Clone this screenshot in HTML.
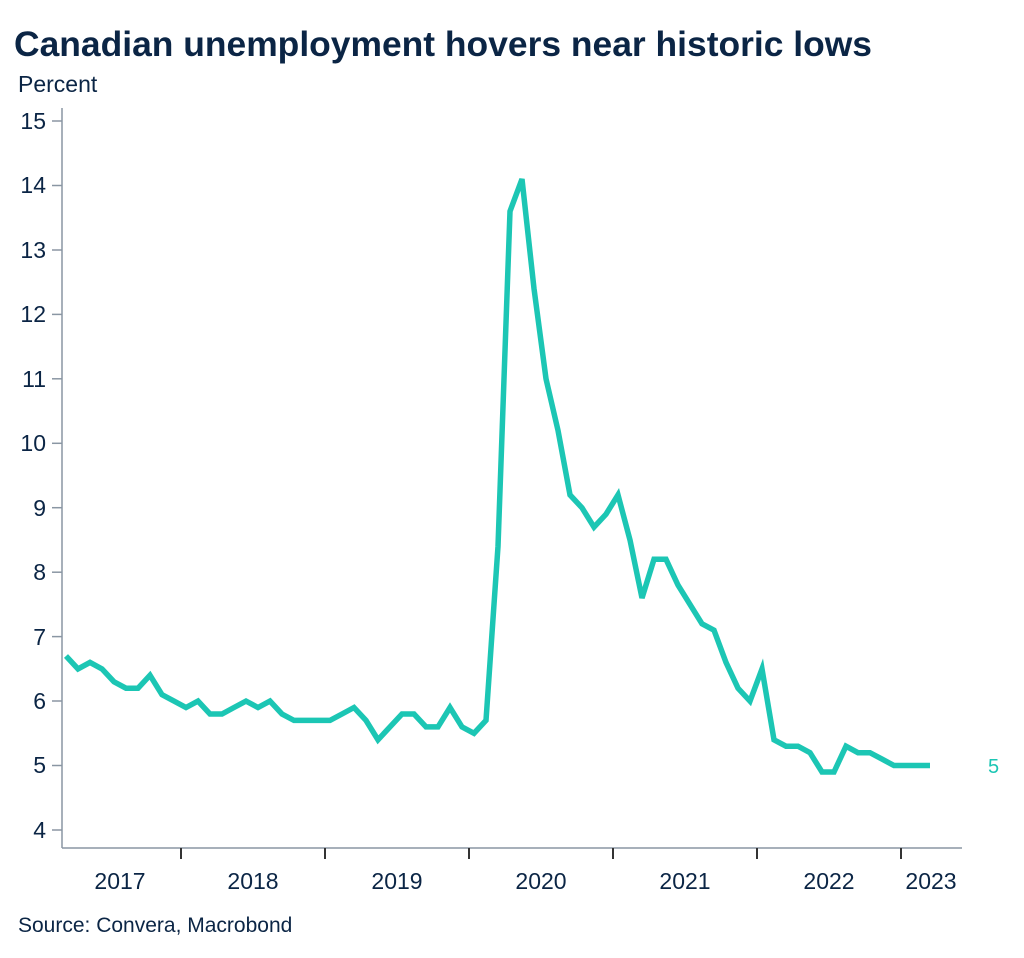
<!DOCTYPE html>
<html><head><meta charset="utf-8"><style>
body{margin:0;background:#fff;}
svg{display:block;font-family:"Liberation Sans",sans-serif;}
</style></head><body>
<svg width="1024" height="958" viewBox="0 0 1024 958" xmlns="http://www.w3.org/2000/svg">
<text x="14" y="56" font-size="35" font-weight="bold" fill="#0b2545" textLength="858" lengthAdjust="spacingAndGlyphs">Canadian unemployment hovers near historic lows</text>
<text x="18" y="92" font-size="23" fill="#0b2545">Percent</text>
<g stroke="#8a96a3" stroke-width="1.5" fill="none">
<line x1="62" y1="108" x2="62" y2="848"/>
<line x1="62" y1="848" x2="962" y2="848"/>
<line x1="52" y1="121" x2="62" y2="121"/><line x1="52" y1="185.5" x2="62" y2="185.5"/>
<line x1="52" y1="250" x2="62" y2="250"/><line x1="52" y1="314.4" x2="62" y2="314.4"/>
<line x1="52" y1="378.8" x2="62" y2="378.8"/><line x1="52" y1="443.3" x2="62" y2="443.3"/>
<line x1="52" y1="507.7" x2="62" y2="507.7"/><line x1="52" y1="572.2" x2="62" y2="572.2"/>
<line x1="52" y1="636.6" x2="62" y2="636.6"/><line x1="52" y1="701" x2="62" y2="701"/>
<line x1="52" y1="765.5" x2="62" y2="765.5"/><line x1="52" y1="830" x2="62" y2="830"/>
</g>
<g stroke="#333" stroke-width="2">
<line x1="181" y1="848" x2="181" y2="859"/><line x1="325" y1="848" x2="325" y2="859"/>
<line x1="469" y1="848" x2="469" y2="859"/><line x1="613" y1="848" x2="613" y2="859"/>
<line x1="757" y1="848" x2="757" y2="859"/><line x1="901" y1="848" x2="901" y2="859"/>
</g>
<g font-size="23" fill="#0b2545" text-anchor="end">
<text x="46" y="129">15</text><text x="46" y="193">14</text><text x="46" y="258">13</text>
<text x="46" y="322">12</text><text x="46" y="387">11</text><text x="46" y="451">10</text>
<text x="46" y="516">9</text><text x="46" y="580">8</text><text x="46" y="645">7</text>
<text x="46" y="709">6</text><text x="46" y="773">5</text><text x="46" y="838">4</text>
</g>
<g font-size="23" fill="#0b2545" text-anchor="middle">
<text x="120" y="889">2017</text><text x="253" y="889">2018</text><text x="397" y="889">2019</text>
<text x="541" y="889">2020</text><text x="685" y="889">2021</text><text x="829" y="889">2022</text>
<text x="931" y="889">2023</text>
</g>
<text x="988" y="773" font-size="20" fill="#1cc6b4">5</text>
<text x="18" y="932" font-size="21" fill="#0b2545">Source: Convera, Macrobond</text>
<polyline id="ln" fill="none" stroke="#1cc6b4" stroke-width="5.5" stroke-linejoin="miter" points=""/>
<script>
var v=[6.7,6.5,6.6,6.5,6.3,6.2,6.2,6.4,6.1,6.0,5.9,6.0,5.8,5.8,5.9,6.0,5.9,6.0,5.8,5.7,5.7,5.7,5.7,5.8,5.9,5.7,5.4,5.6,5.8,5.8,5.6,5.6,5.9,5.6,5.5,5.7,8.4,13.6,14.1,12.4,11.0,10.2,9.2,9.0,8.7,8.9,9.2,8.5,7.6,8.2,8.2,7.8,7.5,7.2,7.1,6.6,6.2,6.0,6.5,5.4,5.3,5.3,5.2,4.9,4.9,5.3,5.2,5.2,5.1,5.0,5.0,5.0,5.0];
var p=v.map(function(d,i){return (66+12*i)+","+(830-(d-4)*64.45).toFixed(1);}).join(" ");
document.getElementById("ln").setAttribute("points",p);
</script>
</svg>
</body></html>
